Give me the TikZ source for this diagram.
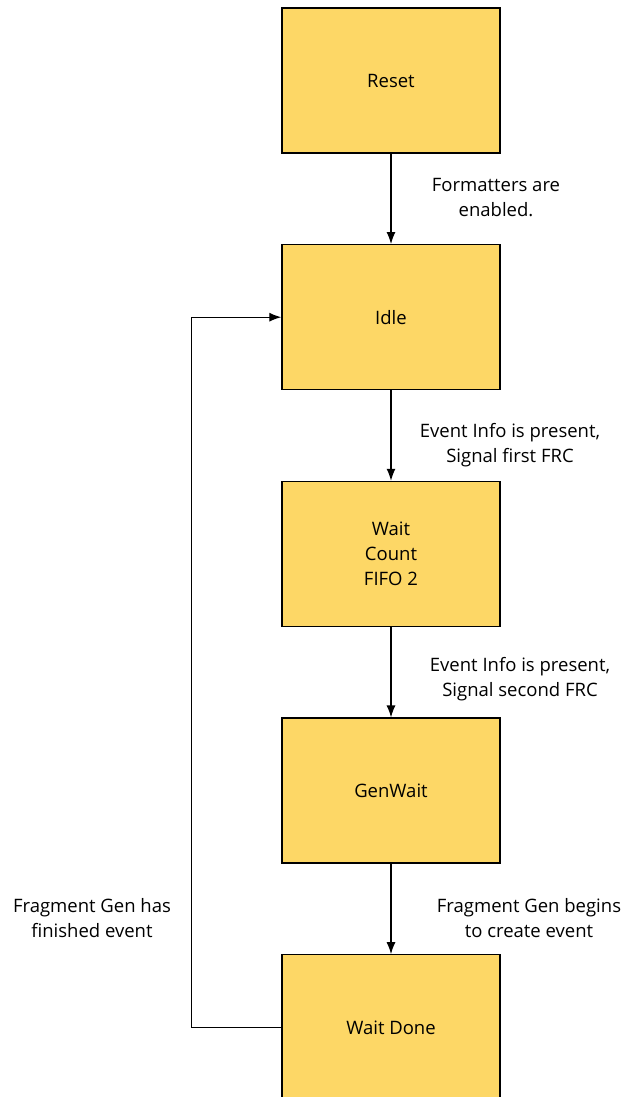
\documentclass[tikz,border=0pt]{standalone}
\usepackage{fontspec}
\setmainfont{Open Sans}
\usetikzlibrary{positioning,arrows.meta}

\definecolor{stategold}{HTML}{FDD766}

\tikzset{
  state/.style={draw=black, line width=1.3pt, fill=stategold, minimum width=218pt, minimum height=145pt, inner sep=0pt, align=center, font=\fontsize{18.5}{25}\selectfont},
  trans/.style={line width=1.2pt, -{Latex[length=12pt,width=9pt]}},
  cond/.style={align=center, font=\fontsize{18.5}{25}\selectfont}
}

\begin{document}
\begin{tikzpicture}[x=1pt,y=-1pt]
	\useasboundingbox (0,0) rectangle (626,1097);

	% states
	\node[state] (reset) at (391,80.5) {Reset};
	\node[state, below=90.4pt of reset] (idle) {Idle};
	\node[state, below=90.4pt of idle] (wcount) {Wait\\Count\\FIFO 2};
	\node[state, below=90.4pt of wcount] (genwait) {GenWait};
	\node[state, below=90.4pt of genwait] (wdone) {Wait Done};

	% transitions
	\draw[trans] (reset) -- (idle);
	\draw[trans] (idle) -- (wcount);
	\draw[trans] (wcount) -- (genwait);
	\draw[trans] (genwait) -- (wdone);
	\draw[trans] (wdone.west) -- ++(-90,0) |- (idle.west);

	% conditions
	\node[cond] (c1) at (496,198) {Formatters are\\enabled.};
	\node[cond] (c2) at (510,445) {Event Info is present,\\Signal first FRC};
	\node[cond] (c3) at (520,679) {Event Info is present,\\Signal second FRC};
	\node[cond] (c4) at (529,918) {Fragment Gen begins\\to create event};
	\node[cond] (c5) at (92,918) {Fragment Gen has\\finished event};
\end{tikzpicture}
\end{document}
